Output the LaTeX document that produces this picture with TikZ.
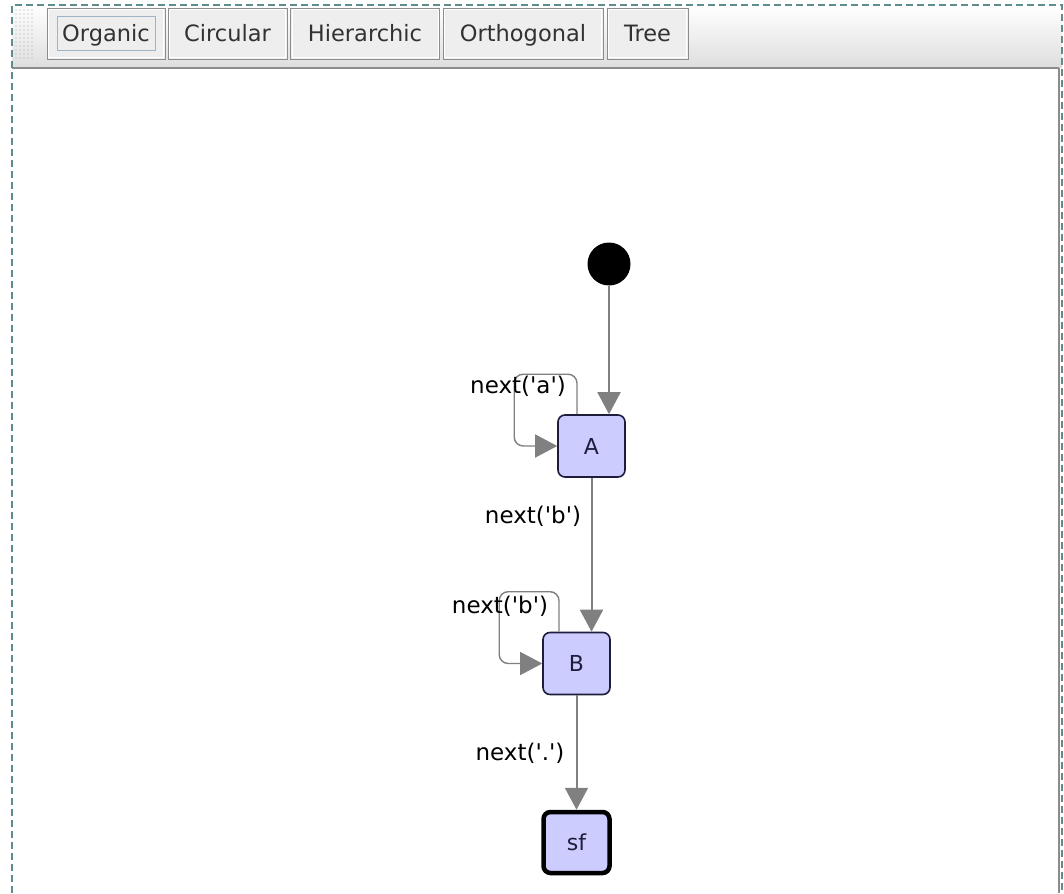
\documentclass[tikz,border=0pt]{standalone}
\usepackage{fontspec}
\setmainfont{DejaVu Sans}
\usetikzlibrary{arrows.meta}
\definecolor{nodefill}{RGB}{204,204,255}
\definecolor{nodeline}{RGB}{30,30,60}
\definecolor{edgegray}{RGB}{128,128,128}
\definecolor{frameteal}{RGB}{95,140,140}
\definecolor{btnfill}{RGB}{238,238,238}
\definecolor{btnline}{RGB}{140,140,140}
\definecolor{btntext}{RGB}{50,50,50}
\definecolor{focusline}{RGB}{160,180,200}
\newcommand{\sq}{\textquotesingle}
\tikzset{
  state/.style={draw=nodeline, line width=1.6pt, fill=nodefill, rounded corners=7pt,
    minimum width=67pt, minimum height=62pt, inner sep=0pt,
    font=\fontsize{22}{26}\selectfont, text=nodeline},
  final/.style={state, line width=4.5pt, draw=black, minimum width=66pt, minimum height=61pt},
  startdot/.style={circle, fill=black, minimum size=43pt, inner sep=0pt},
  edge/.style={draw=edgegray, line width=2pt,
    -{Triangle[length=22pt, width=23pt, fill=edgegray]}},
  loopedge/.style={edge, line width=1.4pt, rounded corners=9pt},
  elabel/.style={font=\fontsize{23}{27}\selectfont, text=black, inner sep=0pt},
  button/.style={draw=btnline, line width=1pt, fill=btnfill,
    font=\fontsize{22.5}{26}\selectfont, text=btntext, inner sep=0pt,
    text height=19pt, text depth=3pt},
}
\begin{document}
\begin{tikzpicture}[x=1pt, y=-1pt]
\useasboundingbox (0,0) rectangle (1064,893);
\fill[white] (0,0) rectangle (1064,893);

% toolbar strip
\shade[top color=white, bottom color=black!13] (12,5) rectangle (1062,68);
\draw[btnline, line width=1.5pt] (12,68) -- (1059,68);
% gripper dots
\foreach \gx in {16,20,...,34} {
  \foreach \gy in {10,14,...,60} {
    \fill[black!35] (\gx,\gy) circle (0.7pt);
  }
}
% buttons
\node[button, minimum width=118pt, minimum height=51pt] (bOrg) at (106,34) {Organic};
\node[button, minimum width=119pt, minimum height=51pt] (bCir) at (227.5,34) {Circular};
\node[button, minimum width=149pt, minimum height=51pt] (bHie) at (365,34) {Hierarchic};
\node[button, minimum width=160pt, minimum height=51pt] (bOrt) at (523,34) {Orthogonal};
\node[button, minimum width=81pt, minimum height=51pt] (bTre) at (647.5,34) {Tree};
\foreach \b in {bOrg,bCir,bHie,bOrt,bTre} {
  \draw[white, line width=1pt] ([shift={(2pt,-2pt)}]\b.north west) rectangle ([shift={(-2pt,2pt)}]\b.south east);
}
\draw[focusline, line width=1pt] (57,17) rectangle (155,51);

% window frame
\draw[btnline, line width=1.5pt] (1059,68) -- (1059,893);
\draw[frameteal, line width=1.2pt, dash pattern=on 7pt off 4pt] (12,893) -- (12,5) -- (1062,5) -- (1062,893);

% states
\node[startdot] (start) at (609,264) {};
\node[state] (A) at (591.5,446) {A};
\node[state] (B) at (576.5,663.5) {B};
\node[final] (sf) at (576.5,842.5) {sf};

% transitions
\draw[edge] (start.south) -- (start.south |- A.north);
\draw[edge] (A.south) -- (A.south |- B.north);
\draw[edge] (B.south) -- (sf.north);
\draw[loopedge] ([xshift=-14.5pt]A.north) -- ++(0,-40) -| ([xshift=-43pt]A.west) -- (A.west);
\draw[loopedge] ([xshift=-17.5pt]B.north) -- ++(0,-40) -| ([xshift=-43pt]B.west) -- (B.west);

% transition labels
\node[elabel] (lA) at (518,386) {next(\sq a\sq)};
\node[elabel] (lAB) at (533,516) {next(\sq b\sq)};
\node[elabel] (lB) at (500,606) {next(\sq b\sq)};
\node[elabel] (lBs) at (520,753) {next(\sq.\sq)};
\end{tikzpicture}
\end{document}
